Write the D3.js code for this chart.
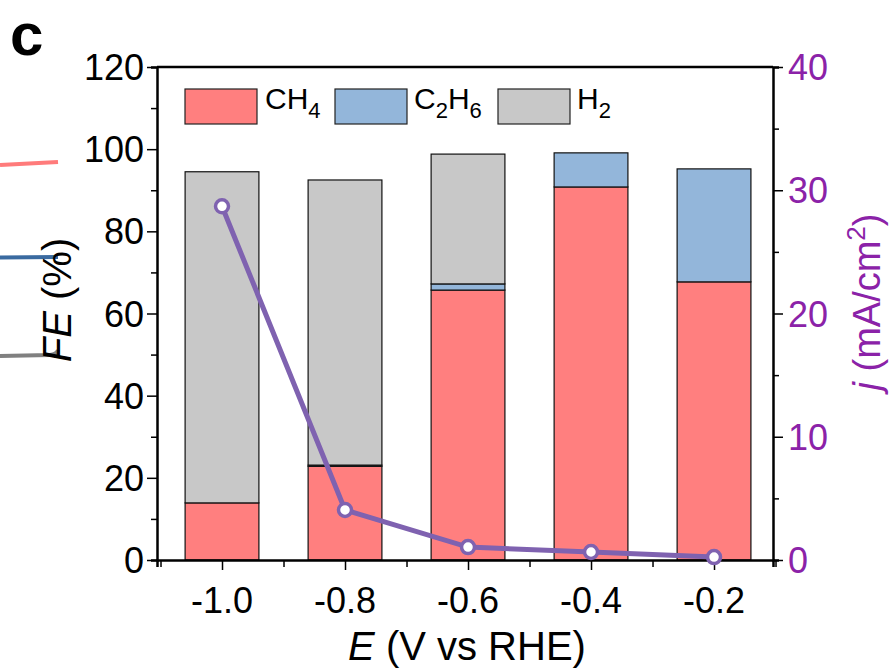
<!DOCTYPE html>
<html><head><meta charset="utf-8">
<script src="https://cdn.jsdelivr.net/npm/d3@7"></script>
<style>body{margin:0;background:#fff}svg{display:block;font-family:Arial,"Liberation Sans",sans-serif}</style>
</head><body><svg id="c" width="892" height="669"></svg>
<script>
const potentials = [-1.0, -0.8, -0.6, -0.4, -0.2];
const ch4 = [13.9, 22.8, 65.7, 90.8, 67.7];
const c2h6 = [0, 0.3, 1.5, 8.3, 27.5];
const h2 = [80.6, 69.4, 31.6, 0, 0];
const currentDensity = [28.7, 4.06, 1.05, 0.65, 0.24];
const xTicks = [-1.0, -0.8, -0.6, -0.4, -0.2];
const yTicks = [0, 20, 40, 60, 80, 100, 120];
const jTicks = [0, 10, 20, 30, 40];
const seriesNames = ["CH4", "C2H6", "H2"];
const colors = ["#FF7F7F", "#93B6DA", "#C8C8C8"];

const svg = d3.select("#c");
const L = 157, R = 773, T = 67, B = 560;
const x = d3.scaleLinear().domain([-1.1057, -0.1041]).range([L, R]);
const y = d3.scaleLinear().domain([0, 120]).range([B, T]);
const yj = d3.scaleLinear().domain([0, 40]).range([B, T]);
const purple = "#7F62B0", labPurple = "#8B22A8";

// fragments of neighbouring panel
svg.append("path").attr("d","M0,165 L58,162").attr("stroke","#FF7B7B").attr("stroke-width",4).attr("fill","none");
svg.append("path").attr("d","M0,257.5 L58,257").attr("stroke","#3A6AA0").attr("stroke-width",4).attr("fill","none");
svg.append("path").attr("d","M0,356 L50,355 Q57,354 58,350").attr("stroke","#808080").attr("stroke-width",4).attr("fill","none");
svg.append("text").attr("x",10).attr("y",55).attr("font-size",60).attr("font-weight","bold").text("c");

// stacked bars
const bw = x(0.12) - x(0);
const stackData = potentials.map((p,i)=>({p, v:[ch4[i], c2h6[i], h2[i]]}));
stackData.forEach(d=>{
  let acc = 0;
  d.v.forEach((v,k)=>{
    if(v<=0){return;}
    svg.append("rect").attr("x", x(d.p)-bw/2).attr("y", y(acc+v)).attr("width", bw)
      .attr("height", y(acc)-y(acc+v)).attr("fill", colors[k]).attr("stroke","#111").attr("stroke-width",1.2);
    acc += v;
  });
});

// axes
const fs = 36;
const bottom = svg.append("g").attr("transform",`translate(0,${B})`)
  .call(d3.axisBottom(x).tickValues(d3.range(-1.1,-0.05,0.1)).tickSize(7).tickFormat(""));
bottom.call(g=>g.selectAll(".tick line").attr("y2",(d,i)=>i%2===1?10:7).attr("stroke-width",1.5));
bottom.select(".domain").attr("stroke-width",2.5);
xTicks.forEach(t=>svg.append("text").attr("x",x(t)).attr("y",613).attr("text-anchor","middle").attr("font-size",fs).text(t.toFixed(1)));

const left = svg.append("g").attr("transform",`translate(${L},0)`)
  .call(d3.axisLeft(y).tickValues(d3.range(0,121,10)).tickSize(6).tickFormat(""));
left.selectAll(".tick line").attr("x2",d=>d%20===0?-10:-6).attr("stroke-width",1.5);
left.select(".domain").attr("stroke-width",2.5);
yTicks.forEach(t=>svg.append("text").attr("x",144).attr("y",y(t)+13).attr("text-anchor","end").attr("font-size",fs).text(t));

const right = svg.append("g").attr("transform",`translate(${R},0)`)
  .call(d3.axisRight(yj).tickValues(d3.range(0,41,5)).tickSize(6).tickFormat(""));
right.selectAll(".tick line").attr("x2",d=>d%10===0?10:6).attr("stroke-width",1.5);
right.select(".domain").attr("stroke-width",2.5);
jTicks.forEach(t=>svg.append("text").attr("x",788).attr("y",yj(t)+13).attr("text-anchor","start").attr("font-size",fs).attr("fill",labPurple).text(t));

svg.append("line").attr("x1",L).attr("x2",R).attr("y1",T).attr("y2",T).attr("stroke","#000").attr("stroke-width",2.5);
svg.selectAll(".tick line").attr("stroke","#000");
svg.selectAll(".domain").attr("stroke","#000");

// axis titles
const xt = svg.append("text").attr("x",467).attr("y",660).attr("text-anchor","middle").attr("font-size",40);
xt.append("tspan").attr("font-style","italic").text("E");
xt.append("tspan").text(" (V vs RHE)");
const yt = svg.append("text").attr("transform","translate(71,300) rotate(-90)").attr("text-anchor","middle").attr("font-size",40);
yt.append("tspan").attr("font-style","italic").text("FE");
yt.append("tspan").text(" (%)");
const jt = svg.append("text").attr("transform","translate(880,302) rotate(-90)").attr("text-anchor","middle").attr("font-size",38).attr("fill",labPurple);
jt.append("tspan").attr("font-style","italic").text("j");
jt.append("tspan").text(" (mA/cm");
jt.append("tspan").attr("font-size",26).attr("dy",-15).text("2");
jt.append("tspan").attr("dy",15).text(")");

// legend
const legX = [185, 335, 498], labelX = [265, 414, 577];
seriesNames.forEach((n,k)=>{
  svg.append("rect").attr("x",legX[k]).attr("y",89).attr("width",72).attr("height",35).attr("fill",colors[k]).attr("stroke","#222").attr("stroke-width",1.2);
  const t = svg.append("text").attr("x",labelX[k]).attr("y",118).attr("font-size",30);
  const parts = n.match(/[A-Z]+|\d+/g);
  parts.forEach(p=>{
    if(/\d/.test(p)) t.append("tspan").attr("font-size",22).attr("dy",9).text(p);
    else t.append("tspan").attr("dy",(t.selectAll("tspan").size()>0)?-9:0).text(p);
  });
});

// current density line
const line = d3.line().x((d,i)=>x(potentials[i])).y(d=>yj(d));
svg.append("path").datum(currentDensity).attr("d",line).attr("fill","none").attr("stroke",purple).attr("stroke-width",5);
svg.selectAll("circle.pt").data(currentDensity).enter().append("circle")
  .attr("cx",(d,i)=>x(potentials[i])).attr("cy",d=>yj(d)).attr("r",6.5)
  .attr("fill","#fff").attr("stroke",purple).attr("stroke-width",3.5);
</script></body></html>
